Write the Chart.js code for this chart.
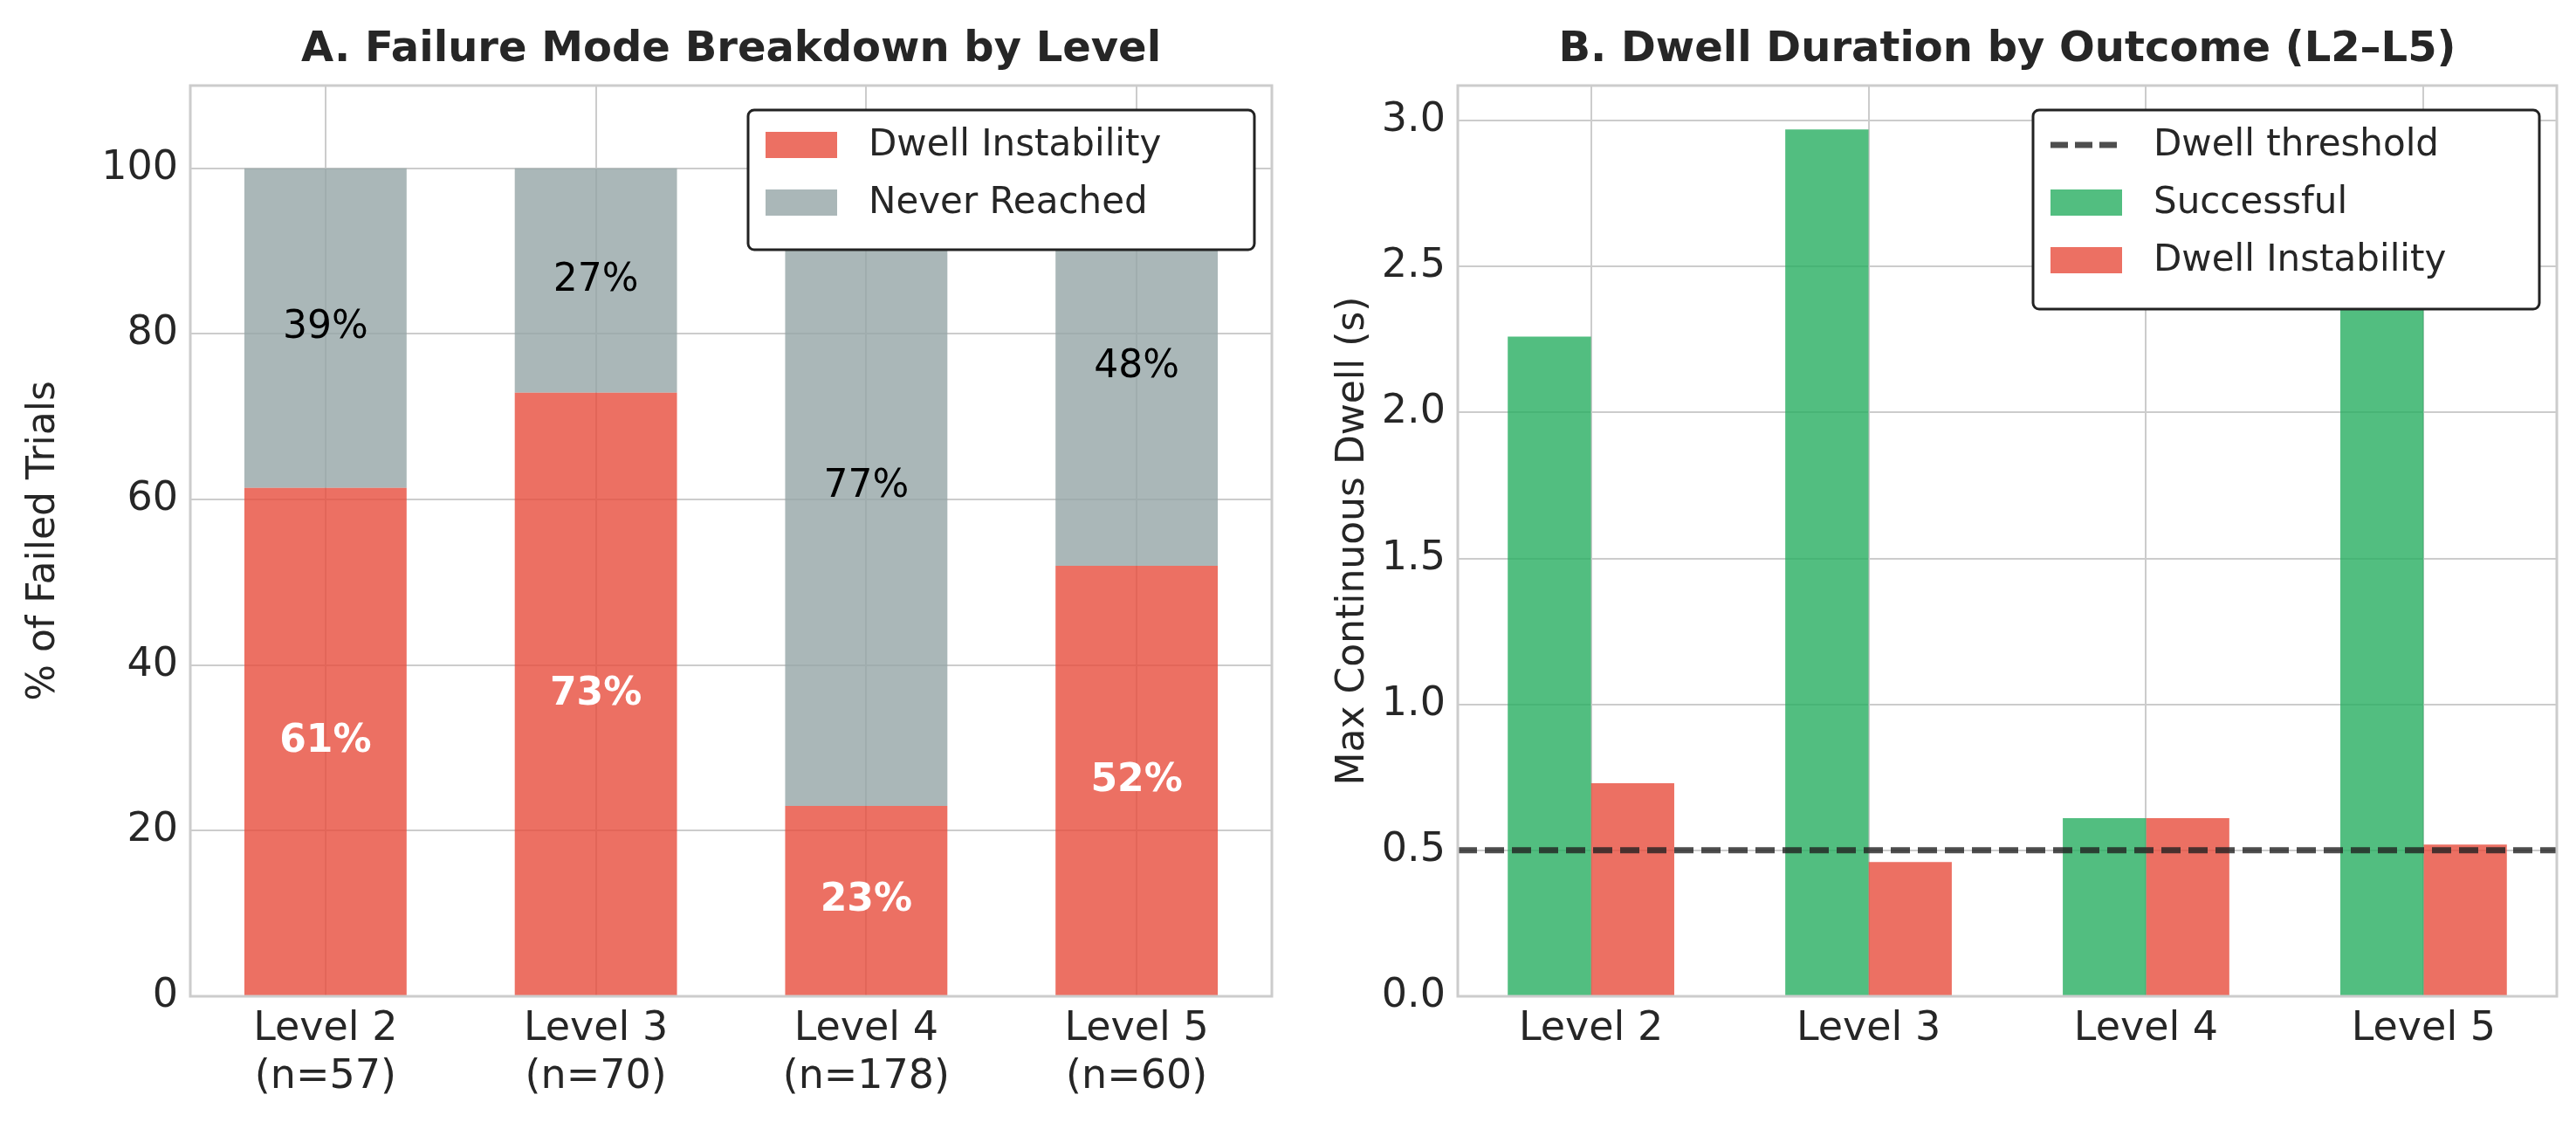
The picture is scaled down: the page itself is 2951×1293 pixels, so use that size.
<!DOCTYPE html>
<html>
<head>
<meta charset="utf-8">
<script src="https://cdn.jsdelivr.net/npm/chart.js@4.4.0/dist/chart.umd.min.js"></script>
<style>
  html, body { margin: 0; padding: 0; background: #fff; }
  #wrap { position: relative; width: 2951px; height: 1293px; }
  #cA { position: absolute; left: 0; top: 0; }
  #cB { position: absolute; left: 1480px; top: 0; }
</style>
</head>
<body>
<div id="wrap">
  <canvas id="cA" width="1480" height="1293"></canvas>
  <canvas id="cB" width="1471" height="1293"></canvas>
</div>
<script>
const levels = ["Level 2", "Level 3", "Level 4", "Level 5"];
const trialCounts = ["(n=57)", "(n=70)", "(n=178)", "(n=60)"];
const dwellInstabilityPct = [61.4, 72.9, 23.0, 52.0];
const neverReachedPct = [38.6, 27.1, 77.0, 48.0];
const successDwell = [2.26, 2.97, 0.61, 2.55];
const failDwell = [0.73, 0.46, 0.61, 0.52];
const dwellThreshold = 0.5;

const RED = "rgba(231, 76, 60, 0.8)";
const GRAY = "rgba(149, 165, 166, 0.8)";
const GREEN = "rgba(39, 174, 96, 0.8)";
const TXT = "#262626";
const GRID = "#cccccc";
const FONT = "DejaVu Sans";

Chart.defaults.font.family = FONT;
Chart.defaults.color = TXT;
Chart.defaults.animation = false;
Chart.defaults.devicePixelRatio = 1;

// frame, title and legend drawn by hand
function framePlugin(title, legendItems, legendBox) {
  return {
    id: "frame",
    afterDraw(chart) {
      const ctx = chart.ctx, a = chart.chartArea;
      ctx.save();
      ctx.strokeStyle = GRID;
      ctx.lineWidth = 3;
      ctx.strokeRect(a.left, a.top, a.right - a.left, a.bottom - a.top);
      ctx.fillStyle = TXT;
      ctx.font = "bold 48px " + FONT;
      ctx.textAlign = "center";
      ctx.textBaseline = "middle";
      ctx.fillText(title, (a.left + a.right) / 2, 58);

      // legend
      const lb = legendBox;
      const x = a.right - lb.w - 20, y = a.top + 28;
      ctx.fillStyle = "#fff";
      ctx.strokeStyle = "#222";
      ctx.lineWidth = 3;
      ctx.beginPath();
      ctx.roundRect(x, y, lb.w, lb.h, 7);
      ctx.fill();
      ctx.stroke();
      ctx.font = "42px " + FONT;
      ctx.textAlign = "left";
      legendItems.forEach((it, i) => {
        const cy = y + 40 + i * 66;
        if (it.dash) {
          ctx.strokeStyle = "rgba(34,34,34,0.8)";
          ctx.lineWidth = 7;
          ctx.setLineDash([20, 8]);
          ctx.beginPath();
          ctx.moveTo(x + 20, cy);
          ctx.lineTo(x + 102, cy);
          ctx.stroke();
          ctx.setLineDash([]);
        } else {
          ctx.fillStyle = it.color;
          ctx.fillRect(x + 20, cy - 15, 82, 30);
        }
        ctx.fillStyle = TXT;
        ctx.fillText(it.label, x + 138, cy + 1);
      });
      ctx.restore();
    }
  };
}

const labelPlugin = {
  id: "segLabels",
  afterDatasetsDraw(chart) {
    const ctx = chart.ctx, xs = chart.scales.x, ys = chart.scales.y;
    ctx.save();
    ctx.textAlign = "center";
    ctx.textBaseline = "middle";
    levels.forEach((_, i) => {
      const px = xs.getPixelForValue(i);
      const d = dwellInstabilityPct[i], n = neverReachedPct[i];
      ctx.font = "bold 44px " + FONT;
      ctx.fillStyle = "#fff";
      ctx.fillText(Math.round(d) + "%", px, ys.getPixelForValue(d / 2));
      ctx.font = "44px " + FONT;
      ctx.fillStyle = "#000";
      ctx.fillText(Math.round(n) + "%", px, ys.getPixelForValue(d + n / 2));
    });
    ctx.restore();
  }
};

const thresholdPlugin = {
  id: "threshold",
  afterDatasetsDraw(chart) {
    const ctx = chart.ctx, a = chart.chartArea;
    const py = chart.scales.y.getPixelForValue(dwellThreshold);
    ctx.save();
    ctx.strokeStyle = "rgba(34,34,34,0.8)";
    ctx.lineWidth = 7;
    ctx.setLineDash([22, 9]);
    ctx.beginPath();
    ctx.moveTo(a.left, py);
    ctx.lineTo(a.right, py);
    ctx.stroke();
    ctx.restore();
  }
};

const tickFont = { size: 46, family: FONT };

new Chart(document.getElementById("cA"), {
  type: "bar",
  data: {
    labels: levels.map((l, i) => [l, trialCounts[i]]),
    datasets: [
      { label: "Dwell Instability", data: dwellInstabilityPct, backgroundColor: RED },
      { label: "Never Reached", data: neverReachedPct, backgroundColor: GRAY }
    ]
  },
  options: {
    responsive: false,
    layout: { padding: { top: 98, right: 23, left: 20, bottom: 0 } },
    datasets: { bar: { barPercentage: 0.6, categoryPercentage: 1 } },
    plugins: { legend: { display: false }, tooltip: { enabled: false } },
    scales: {
      x: {
        stacked: true,
        grid: { color: GRID, lineWidth: 2, offset: false, drawTicks: false },
        border: { display: false },
        ticks: { font: tickFont, color: TXT, padding: 10 },
        afterFit(s) { s.height = 152; }
      },
      y: {
        stacked: true, min: 0, max: 110,
        grid: { color: GRID, lineWidth: 2, drawTicks: false },
        border: { display: false },
        ticks: { font: tickFont, color: TXT, padding: 14, stepSize: 20,
          callback: v => (v <= 100 ? v : "") },
        title: { display: true, text: "% of Failed Trials", font: { size: 44 }, color: TXT, padding: { bottom: 16 } },
        afterFit(s) { s.width = 198; }
      }
    }
  },
  plugins: [labelPlugin, framePlugin("A. Failure Mode Breakdown by Level",
    [{ label: "Dwell Instability", color: RED }, { label: "Never Reached", color: GRAY }],
    { w: 580, h: 160 })]
});

new Chart(document.getElementById("cB"), {
  type: "bar",
  data: {
    datasets: [
      { label: "Successful", data: successDwell.map((v, i) => ({ x: i, y: v })), backgroundColor: GREEN },
      { label: "Dwell Instability", data: failDwell.map((v, i) => ({ x: i, y: v })), backgroundColor: RED }
    ]
  },
  options: {
    responsive: false,
    layout: { padding: { top: 98, right: 22, left: 40, bottom: 0 } },
    datasets: { bar: { barPercentage: 1, categoryPercentage: 0.6 } },
    plugins: { legend: { display: false }, tooltip: { enabled: false } },
    scales: {
      x: {
        type: "linear", min: -0.48, max: 3.48, offset: false,
        afterBuildTicks(s) { s.ticks = [0, 1, 2, 3].map(v => ({ value: v })); },
        grid: { color: GRID, lineWidth: 2, offset: false, drawTicks: false },
        border: { display: false },
        ticks: { font: tickFont, color: TXT, padding: 10, callback: v => levels[v] },
        afterFit(s) { s.height = 152; }
      },
      y: {
        min: 0, max: 3.12,
        afterBuildTicks(s) { s.ticks = [0, 0.5, 1, 1.5, 2, 2.5, 3].map(v => ({ value: v })); },
        grid: { color: GRID, lineWidth: 2, drawTicks: false },
        border: { display: false },
        ticks: { font: tickFont, color: TXT, padding: 14, callback: v => v.toFixed(1) },
        title: { display: true, text: "Max Continuous Dwell (s)", font: { size: 44 }, color: TXT, padding: { bottom: 14 } },
        afterFit(s) { s.width = 150; }
      }
    }
  },
  plugins: [thresholdPlugin, framePlugin("B. Dwell Duration by Outcome (L2–L5)",
    [{ label: "Dwell threshold", dash: true }, { label: "Successful", color: GREEN }, { label: "Dwell Instability", color: RED }],
    { w: 580, h: 228 })]
});
</script>
</body>
</html>
